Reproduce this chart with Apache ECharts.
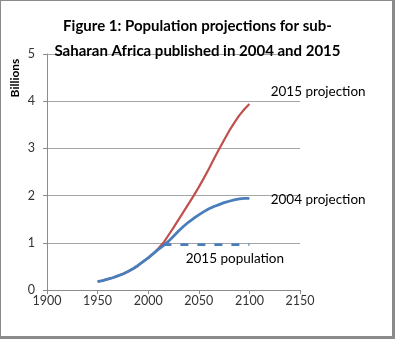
<!DOCTYPE html>
<html>
<head>
<meta charset="utf-8">
<script src="https://cdn.jsdelivr.net/npm/echarts@6/dist/echarts.min.js"></script>
<style>
  html, body { margin: 0; padding: 0; background: #fff; }
  #chart { width: 395px; height: 339px; }
</style>
</head>
<body>
<div id="chart"></div>
<script>
// Sub-Saharan Africa population (billions), UN projections
const years = [1950, 1955, 1960, 1965, 1970, 1975, 1980, 1985, 1990, 1995, 2000, 2005, 2010,
               2015, 2020, 2025, 2030, 2035, 2040, 2045, 2050, 2055, 2060, 2065, 2070,
               2075, 2080, 2085, 2090, 2095, 2100];
const proj2015 = [0.18, 0.20, 0.23, 0.26, 0.30, 0.34, 0.39, 0.45, 0.52, 0.60, 0.68, 0.77, 0.88,
                  1.00, 1.16, 1.32, 1.49, 1.66, 1.83, 2.00, 2.18, 2.37, 2.57, 2.78, 2.98,
                  3.18, 3.37, 3.54, 3.70, 3.83, 3.94];
const proj2004 = [0.18, 0.20, 0.23, 0.26, 0.30, 0.34, 0.39, 0.45, 0.52, 0.60, 0.68, 0.77, 0.86,
                  0.94, 1.03, 1.14, 1.25, 1.35, 1.44, 1.52, 1.59, 1.66, 1.72, 1.77, 1.81,
                  1.85, 1.88, 1.91, 1.93, 1.94, 1.94];
const popYears = [2015, 2100];
const pop2015 = [0.96, 0.96];
const xTicks = [1900, 1950, 2000, 2050, 2100, 2150];
const yTicks = [0, 1, 2, 3, 4, 5];

const pairs = (xs, ys) => xs.map((x, i) => [x, ys[i]]);

const FONT = 'Lato';
const chart = echarts.init(document.getElementById('chart'), null, { renderer: 'canvas' });

function noteLabel(text, coord) {
  return {
    symbol: 'circle',
    symbolSize: 0,
    silent: true,
    data: [{ coord: coord, value: text }],
    label: {
      show: true, position: 'right', distance: 0,
      formatter: text, color: '#000', fontFamily: FONT, fontSize: 13.5
    }
  };
}

chart.setOption({
  animation: false,
  title: {
    text: 'Figure 1: Population projections for sub-\nSaharan Africa published in 2004 and 2015',
    left: 'center',
    top: 9,
    textStyle: { fontFamily: FONT, fontWeight: 'bold', fontSize: 15, lineHeight: 25, color: '#000' }
  },
  grid: { left: 47, right: 95, top: 54, bottom: 49, containLabel: false },
  xAxis: {
    type: 'value', min: xTicks[0], max: xTicks[xTicks.length - 1], interval: 50,
    axisLine: { show: true, lineStyle: { color: '#8c8c8c', width: 1 } },
    axisTick: { show: true, length: 4, lineStyle: { color: '#8c8c8c' } },
    axisLabel: { color: '#333', fontFamily: FONT, fontSize: 12.5, margin: 4,
                 formatter: v => String(v) },
    splitLine: { show: false }
  },
  yAxis: {
    type: 'value', min: yTicks[0], max: yTicks[yTicks.length - 1], interval: 1,
    axisLine: { show: true, lineStyle: { color: '#8c8c8c', width: 1 } },
    axisTick: { show: true, length: 4, lineStyle: { color: '#8c8c8c' } },
    axisLabel: { color: '#333', fontFamily: FONT, fontSize: 12.5, margin: 12 },
    splitLine: { show: true, lineStyle: { color: '#a6a6a6', width: 1 } }
  },
  series: [
    {
      name: '2015 projection', type: 'line', data: pairs(years, proj2015),
      showSymbol: false, smooth: false,
      lineStyle: { color: '#c0504d', width: 2.2, join: 'round' },
      z: 3,
      markPoint: noteLabel('2015 projection', [2121, 4.2])
    },
    {
      name: '2004 projection', type: 'line', data: pairs(years, proj2004),
      showSymbol: false, smooth: false,
      lineStyle: { color: '#4a7ebb', width: 2.8, join: 'round' },
      z: 4,
      markPoint: noteLabel('2004 projection', [2121, 1.91])
    },
    {
      name: '2015 population', type: 'line', data: pairs(popYears, pop2015),
      showSymbol: false,
      lineStyle: { color: '#4a7ebb', width: 2.8, type: [8, 9] },
      z: 2,
      markPoint: noteLabel('2015 population', [2037, 0.67])
    }
  ],
  graphic: [
    {
      type: 'text', x: 15, y: 78, rotation: Math.PI / 2, silent: true,
      style: { text: 'Billions', fontFamily: FONT, fontWeight: 'bold', fontSize: 12,
               fill: '#000', align: 'center', verticalAlign: 'middle' }
    },
    { type: 'rect', shape: { x: 0, y: 0, width: 395, height: 1 }, style: { fill: '#8a8a8a' }, silent: true },
    { type: 'rect', shape: { x: 0, y: 0, width: 1, height: 339 }, style: { fill: '#8a8a8a' }, silent: true },
    { type: 'rect', shape: { x: 392, y: 0, width: 3, height: 339 }, style: { fill: '#8a8a8a' }, silent: true },
    { type: 'rect', shape: { x: 0, y: 336, width: 395, height: 3 }, style: { fill: '#8a8a8a' }, silent: true }
  ]
});
</script>
</body>
</html>
